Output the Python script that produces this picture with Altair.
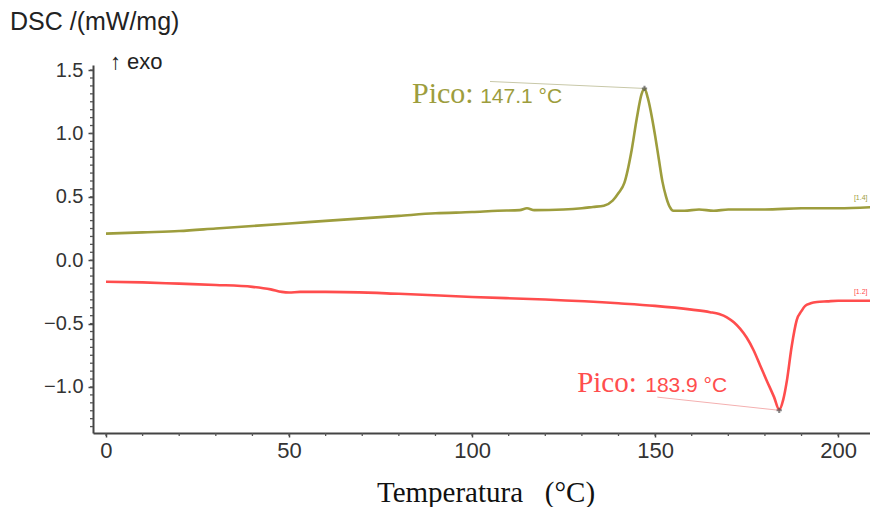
import altair as alt
import pandas as pd

# ---- data ----
green_T = [0, 10, 20, 30, 40, 50, 60, 70, 80, 90, 100, 107, 113, 115, 117, 125, 130, 133, 136,
           138.4, 140, 141.6, 143.6, 145, 146.3, 147.1, 148, 149.9, 151, 152, 153, 154, 155,
           158, 162, 166, 170, 180, 190, 200, 210]
green_V = [0.21, 0.22, 0.23, 0.25, 0.27, 0.29, 0.31, 0.33, 0.35, 0.37, 0.38, 0.39, 0.395, 0.41,
           0.395, 0.40, 0.41, 0.42, 0.43, 0.47, 0.53, 0.61, 0.87, 1.12, 1.31, 1.355, 1.28, 1.00,
           0.80, 0.62, 0.50, 0.42, 0.39, 0.39, 0.40, 0.39, 0.40, 0.40, 0.41, 0.41, 0.42]

red_T = [0, 10, 20, 30, 40, 45, 48, 50, 53, 60, 80, 100, 120, 140, 150, 160, 165, 167.5, 169.6,
         171.5, 173.2, 175, 176.9, 178.7, 180.5, 182.5, 183.9, 185, 186, 187.3, 188.7, 190, 191,
         192.5, 194.2, 197, 200, 205, 210]
red_V = [-0.17, -0.175, -0.185, -0.195, -0.21, -0.23, -0.25, -0.255, -0.25, -0.25, -0.265,
         -0.29, -0.31, -0.34, -0.36, -0.39, -0.41, -0.425, -0.45, -0.49, -0.54, -0.61, -0.71,
         -0.83, -0.95, -1.08, -1.18, -1.10, -0.95, -0.68, -0.47, -0.40, -0.36, -0.34, -0.33,
         -0.325, -0.32, -0.32, -0.32]

x_major = [0, 50, 100, 150, 200]
x_minor = list(range(0, 210, 10))
y_major = [-1.0, -0.5, 0.0, 0.5, 1.0, 1.5]
y_minor = [round(-1.3125 + 0.0625 * i, 4) for i in range(46)]

GREEN = "#9d9d3d"
RED = "#ff4d4d"

W, H = 777, 368
XDOM = [-3.55, 208.7]
YDOM = [-1.363, 1.54]

df = pd.concat([
    pd.DataFrame({"T": green_T, "V": green_V, "s": "green"}),
    pd.DataFrame({"T": red_T, "V": red_V, "s": "red"}),
])

xs = alt.Scale(domain=XDOM, nice=False, zero=False)
ys = alt.Scale(domain=YDOM, nice=False, zero=False)

lines = alt.Chart(df).mark_line(strokeWidth=2.6, interpolate="monotone", clip=True).encode(
    x=alt.X("T:Q", scale=xs, axis=alt.Axis(
        values=x_major, format="d", title=None,
        labelFont="Liberation Sans", labelFontSize=22, labelColor="#333",
        labelPadding=3, tickSize=4, tickWidth=1.5, tickColor="#444", domainColor="#444",
        domainWidth=2, grid=False)),
    y=alt.Y("V:Q", scale=ys, axis=alt.Axis(
        values=y_major, format=".1f", title=None,
        labelFont="Liberation Sans", labelFontSize=20, labelColor="#333", labelPadding=5,
        tickSize=5, tickWidth=1.5, tickColor="#444", domainColor="#444", domainWidth=2,
        grid=False)),
    color=alt.Color("s:N", scale=alt.Scale(domain=["green", "red"], range=[GREEN, RED]), legend=None),
    detail="s:N",
)

# minor ticks
xminor = alt.Chart(pd.DataFrame({"T": x_minor})).mark_rule(color="#555", strokeWidth=1.3).encode(
    x=alt.X("T:Q", scale=xs), y=alt.value(H), y2=alt.value(H + 3))
yminor = alt.Chart(pd.DataFrame({"V": y_minor})).mark_rule(color="#555", strokeWidth=1.3).encode(
    y=alt.Y("V:Q", scale=ys), x=alt.value(-3), x2=alt.value(0))

# tangent lines to the peaks
tan_df = pd.DataFrame({
    "T": [104.9, 147.1, 150.6, 183.9],
    "V": [1.41, 1.355, -1.08, -1.184],
    "s": ["g", "g", "r", "r"],
})
tang = alt.Chart(tan_df).mark_line(strokeWidth=1).encode(
    x=alt.X("T:Q", scale=xs), y=alt.Y("V:Q", scale=ys),
    color=alt.Color("s:N", scale=alt.Scale(domain=["g", "r"], range=["#c8c8a8", "#f4b0b0"]), legend=None),
    detail="s:N",
)

peak_df = pd.DataFrame({"T": [147.1, 183.9], "V": [1.355, -1.184]})
peaks = alt.Chart(peak_df).mark_point(shape="cross", size=28, filled=True, color="#555").encode(
    x=alt.X("T:Q", scale=xs), y=alt.Y("V:Q", scale=ys))

pico_df = pd.DataFrame({"T": [83.6, 128.7], "V": [1.239, -1.042], "t": ["Pico:", "Pico:"],
                        "c": [GREEN, RED], "f": [30, 29]})
pico = alt.Chart(pico_df).mark_text(font="Liberation Serif", align="left",
                                    baseline="alphabetic").encode(
    x=alt.X("T:Q", scale=xs), y=alt.Y("V:Q", scale=ys), text="t:N",
    size=alt.Size("f:Q", scale=None),
    color=alt.Color("c:N", scale=None))

val_df = pd.DataFrame({"T": [102.2, 147.3], "V": [1.239, -1.042], "t": ["147.1 °C", "183.9 °C"],
                       "c": [GREEN, RED]})
vals = alt.Chart(val_df).mark_text(font="Liberation Sans", fontSize=21, align="left",
                                   baseline="alphabetic").encode(
    x=alt.X("T:Q", scale=xs), y=alt.Y("V:Q", scale=ys), text="t:N",
    color=alt.Color("c:N", scale=None))

end_df = pd.DataFrame({"T": [204.3, 204.3], "V": [0.49, -0.25], "t": ["[1.4]", "[1.2]"],
                       "c": [GREEN, RED]})
ends = alt.Chart(end_df).mark_text(font="Liberation Sans", fontSize=7, align="left",
                                   baseline="middle").encode(
    x=alt.X("T:Q", scale=xs), y=alt.Y("V:Q", scale=ys), text="t:N",
    color=alt.Color("c:N", scale=None))

ytitle = alt.Chart(pd.DataFrame({"t": ["DSC /(mW/mg)"]})).mark_text(
    font="Liberation Sans", fontSize=25, align="left", baseline="middle", color="#222").encode(
    x=alt.value(-83), y=alt.value(-43), text="t:N")

exo = alt.Chart(pd.DataFrame({"t": ["↑ exo"]})).mark_text(
    font="Liberation Sans", fontSize=22, align="left", baseline="middle", color="#222").encode(
    x=alt.value(17), y=alt.value(-3), text="t:N")

xtitle = alt.Chart(pd.DataFrame({"t": ["Temperatura\u00a0\u00a0\u00a0(°C)"]})).mark_text(
    font="Liberation Serif", fontSize=29, align="center", baseline="alphabetic", color="#111").encode(
    x=alt.value(393), y=alt.value(437), text="t:N")

chart = alt.layer(lines, xminor, yminor, tang, peaks, pico, vals, ends, ytitle, exo, xtitle
).resolve_scale(color="independent").properties(
    width=W, height=H,
    autosize=alt.AutoSizeParams(type="none"),
    padding={"left": 93, "top": 65, "right": 0, "bottom": 74},
    background="white",
).configure_view(stroke=None)

chart.save("out.html", embed_options={"renderer": "svg", "actions": False})
